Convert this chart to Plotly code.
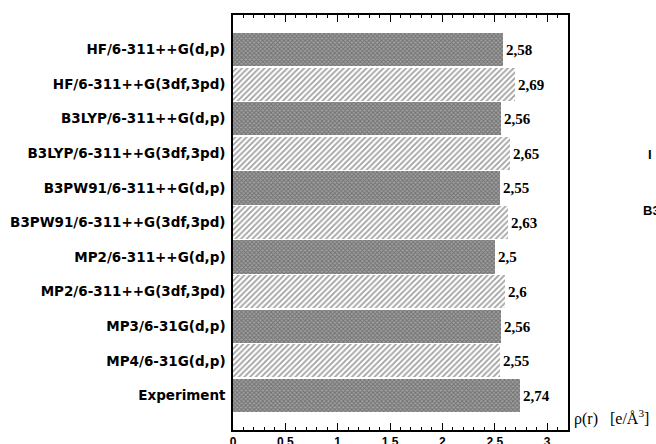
import plotly.graph_objects as go

categories = ["HF/6-311++G(d,p)", "HF/6-311++G(3df,3pd)", "B3LYP/6-311++G(d,p)",
              "B3LYP/6-311++G(3df,3pd)", "B3PW91/6-311++G(d,p)", "B3PW91/6-311++G(3df,3pd)",
              "MP2/6-311++G(d,p)", "MP2/6-311++G(3df,3pd)", "MP3/6-31G(d,p)",
              "MP4/6-31G(d,p)", "Experiment"]
values = [2.58, 2.69, 2.56, 2.65, 2.55, 2.63, 2.5, 2.6, 2.56, 2.55, 2.74]
hatched = [False, True, False, True, False, True, False, True, False, True, False]
tick_vals = [0, 0.5, 1, 1.5, 2, 2.5, 3]
tick_text = ["0", "0.5", "1", "1.5", "2", "2.5", "3"]

shapes_ = ["/" if h else "x" for h in hatched]
bg = ["#ffffff" if h else "#a0a0a0" for h in hatched]
fg = ["#000000" if h else "#1a1a1a" for h in hatched]
sizes = [4 if h else 3 for h in hatched]
sol = [0.45 if h else 0.55 for h in hatched]

fig = go.Figure(go.Bar(
    y=categories, x=values, orientation="h", width=0.96,
    marker=dict(color=bg, line=dict(width=0),
                pattern=dict(shape=shapes_, fgcolor=fg, bgcolor=bg, size=sizes,
                             solidity=sol, fillmode="overlay")),
    text=[str(v).replace(".", ",") for v in values],
    textposition="outside", cliponaxis=False,
    outsidetextfont=dict(family="Liberation Serif", size=15, color="black", weight="bold"),
))

fig.update_layout(
    width=656, height=444,
    margin=dict(l=233, r=88, t=15, b=14),
    plot_bgcolor="white", paper_bgcolor="white",
    showlegend=False, bargap=0,
    xaxis=dict(range=[0, 3.2], tickvals=tick_vals, ticktext=tick_text, automargin=False,
               ticks="inside", ticklen=7, tickwidth=1, tickcolor="black",
               minor=dict(dtick=0.1, ticks="inside", ticklen=3, tickcolor="black"),
               showline=True, linecolor="black", linewidth=1.5, mirror="ticks",
               showgrid=False, zeroline=False,
               tickfont=dict(family="Liberation Sans", size=12, color="black", weight="bold"),
               ticklabelstandoff=0),
    yaxis=dict(categoryorder="array", categoryarray=categories[::-1], automargin=False,
               range=[-1, 11], showline=True, linecolor="black", linewidth=1.5,
               mirror=True, showgrid=False, zeroline=False, ticks="",
               tickfont=dict(family="DejaVu Sans", size=13.5, color="black", weight="bold"),
               ticklabelstandoff=3),
)

fig.add_annotation(xref="paper", yref="paper", x=1.0, y=0.03, xshift=4,
                   xanchor="left", yanchor="middle", showarrow=False,
                   text="ρ(r)&nbsp;&nbsp;&nbsp;[e/Å<sup>3</sup>]",
                   font=dict(family="Liberation Serif", size=16, color="black"))
fig.add_annotation(xref="paper", yref="paper", x=1.0, xshift=78, y=0.663,
                   xanchor="left", showarrow=False, text="I",
                   font=dict(family="Liberation Sans", size=13, color="black", weight="bold"))
fig.add_annotation(xref="paper", yref="paper", x=1.0, xshift=73, y=0.53,
                   xanchor="left", showarrow=False, text="B3",
                   font=dict(family="Liberation Sans", size=13, color="black", weight="bold"))

fig.write_html("out.html", config={"displayModeBar": False},
               post_script="document.body.style.margin='0';document.body.style.overflow='hidden';")
